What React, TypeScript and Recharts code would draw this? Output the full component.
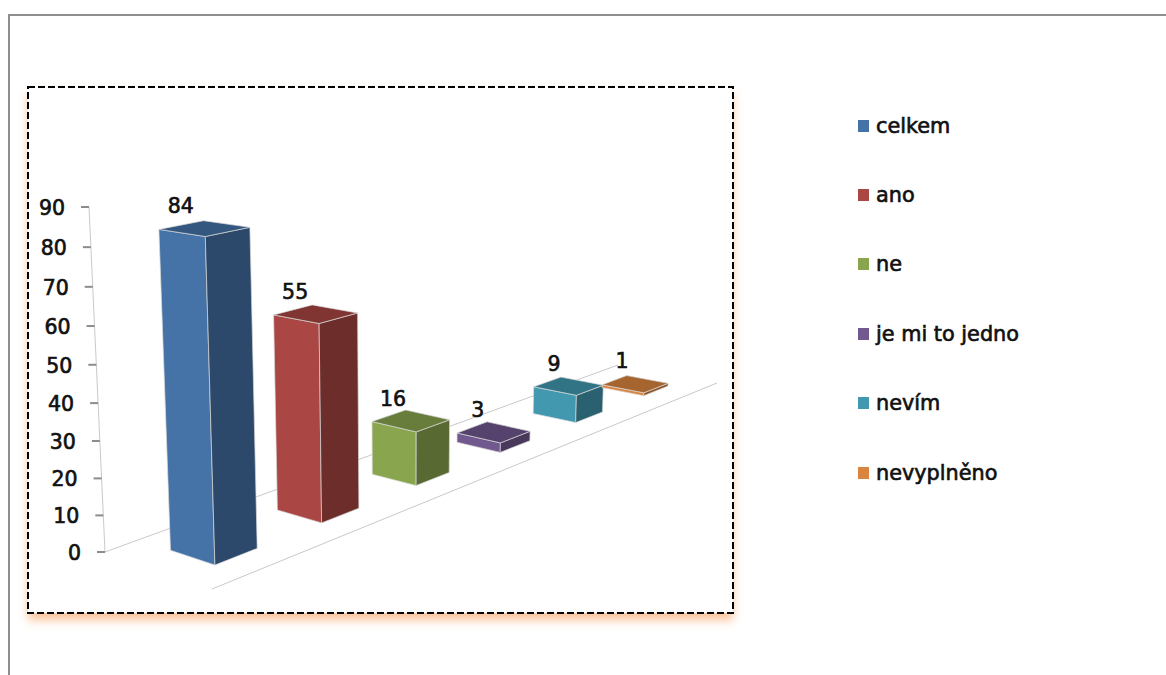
import React from 'react'
import { Bar, BarChart, LabelList, Legend, XAxis, YAxis } from 'recharts'

const seriesNames = ['celkem', 'ano', 'ne', 'je mi to jedno', 'nevím', 'nevyplněno']
const seriesValues = [84, 55, 16, 3, 9, 1]
const seriesColors = ['#4572A7', '#AA4643', '#89A54E', '#71588F', '#4198AF', '#DB843D']
const yTicks = [0, 10, 20, 30, 40, 50, 60, 70, 80, 90]
const yMax = 90

const row: Record<string, number | string> = { name: 'odpovedi' }
seriesNames.forEach((n, i) => {
  row[n] = seriesValues[i]
})

const FONT = '"DejaVu Sans", sans-serif'
const TEXT_WEIGHT = 0.65

// plot box recharts lays out in, before it gets projected
const LEGEND_W = 250
const AXIS_W = 1
const M = { left: 100, top: 100, right: 466, bottom: 125 }
const W = 1166 - M.left - M.right
const H = 675 - M.top - M.bottom

// floor corners on screen: back-left, back-right, front-left, front-right
const P00 = [105, 552]
const P10 = [618, 365]
const P01 = [212, 589]
const P11 = [717, 383]
// screen direction of the height axis and its perspective term
const VY = [-20.5, -355.5]
const PY = -0.0508

// unit square -> floor quad homography
const sx = P00[0] - P10[0] + P11[0] - P01[0]
const sy = P00[1] - P10[1] + P11[1] - P01[1]
const dx1 = P10[0] - P11[0]
const dx2 = P01[0] - P11[0]
const dy1 = P10[1] - P11[1]
const dy2 = P01[1] - P11[1]
const det = dx1 * dy2 - dx2 * dy1
const g = (sx * dy2 - dx2 * sy) / det
const h = (dx1 * sy - sx * dy1) / det

// X along the categories, Z towards the viewer, Y up, all 0..1
const project = (X: number, Z: number, Y: number) => {
  const w = 1 + g * X + h * Z + PY * Y
  const px = (P10[0] - P00[0] + g * P10[0]) * X + (P01[0] - P00[0] + h * P01[0]) * Z + P00[0] + VY[0] * Y
  const py = (P10[1] - P00[1] + g * P10[1]) * X + (P01[1] - P00[1] + h * P01[1]) * Z + P00[1] + VY[1] * Y
  return [px / w, py / w]
}

const poly = (pts: number[][]) => pts.map((p) => `${p[0].toFixed(1)},${p[1].toFixed(1)}`).join(' ')

const shade = (hex: string, k: number) => {
  const n = parseInt(hex.slice(1), 16)
  const c = [(n >> 16) & 255, (n >> 8) & 255, n & 255].map((v) => Math.round(v * k))
  return `rgb(${c[0]},${c[1]},${c[2]})`
}

const toX = (px: number) => (px - M.left) / W

const DEPTH_BACK = 0.31
const DEPTH_FRONT = 0.725

const Box = (props: any) => {
  const { x, width, height, fill } = props
  const x0 = toX(x)
  const x1 = toX(x + width)
  const Y = height / H
  const edge = { stroke: '#d8d8d8', strokeWidth: 0.7, strokeLinejoin: 'round' as const }
  return (
    <g>
      <polygon
        points={poly([
          project(x0, DEPTH_BACK, 0),
          project(x0, DEPTH_FRONT, 0),
          project(x0, DEPTH_FRONT, Y),
          project(x0, DEPTH_BACK, Y),
        ])}
        fill={fill}
        {...edge}
      />
      <polygon
        points={poly([
          project(x0, DEPTH_FRONT, 0),
          project(x1, DEPTH_FRONT, 0),
          project(x1, DEPTH_FRONT, Y),
          project(x0, DEPTH_FRONT, Y),
        ])}
        fill={shade(fill, 0.64)}
        {...edge}
      />
      <polygon
        points={poly([
          project(x0, DEPTH_BACK, Y),
          project(x0, DEPTH_FRONT, Y),
          project(x1, DEPTH_FRONT, Y),
          project(x1, DEPTH_BACK, Y),
        ])}
        fill={shade(fill, 0.76)}
        {...edge}
      />
    </g>
  )
}

const ValueLabel = (props: any) => {
  const { x, height, value } = props
  const p = project(toX(x), 0.5, height / H)
  return (
    <text
      x={p[0] + 1}
      y={p[1] - 27}
      textAnchor="middle"
      dominantBaseline="central"
      fontFamily={FONT}
      fontSize={20.5}
      fill="#111"
      stroke="#111"
      strokeWidth={TEXT_WEIGHT}
    >
      {value}
    </text>
  )
}

const YTick = (props: any) => {
  const { y, payload } = props
  const p = project(0, 0, (M.top + H - y) / H)
  return (
    <g>
      <line x1={p[0] - 8} y1={p[1]} x2={p[0]} y2={p[1]} stroke="#8c8c8c" strokeWidth={2} />
      <text
        x={p[0] - 24}
        y={p[1] + 1}
        textAnchor="end"
        dominantBaseline="central"
        fontFamily={FONT}
        fontSize={20.5}
        fill="#111"
        stroke="#111"
        strokeWidth={TEXT_WEIGHT}
      >
        {payload.value}
      </text>
    </g>
  )
}

// axis and floor guide lines
const Guides = () => {
  const stroke = '#c9c9c9'
  const segs = [
    [project(0, 0, 0), project(0, 0, 1)],
    [project(0, 0, 0), project(1, 0, 0)],
    [project(0, 1, 0), project(1, 1, 0)],
  ]
  return (
    <g>
      <rect
        x={28}
        y={87}
        width={705}
        height={526}
        fill="none"
        stroke="#000"
        strokeWidth={2}
        strokeDasharray="7 3"
      />
      {segs.map((s, i) => (
        <line key={i} x1={s[0][0]} y1={s[0][1]} x2={s[1][0]} y2={s[1][1]} stroke={stroke} strokeWidth={1} />
      ))}
    </g>
  )
}

const LegendList = ({ payload }: any) => (
  <div style={{ fontFamily: FONT, fontSize: 20.8, color: '#111', WebkitTextStroke: `${TEXT_WEIGHT}px #111` }}>
    {(payload || []).map((item: any) => (
      <div key={item.value} style={{ display: 'flex', alignItems: 'center', height: 69.4, whiteSpace: 'nowrap' }}>
        <span style={{ width: 11, height: 12, background: item.color, marginRight: 7 }} />
        {item.value}
      </div>
    ))}
  </div>
)

export default function App() {
  return (
    <div style={{ position: 'absolute', left: 0, top: 0, width: 1166, height: 675, background: '#fff', overflow: 'hidden' }}>
      <div
        style={{
          position: 'absolute',
          left: 8,
          top: 14,
          right: 0,
          bottom: 0,
          borderTop: '2px solid #8e8e8e',
          borderLeft: '2px solid #8e8e8e',
        }}
      />
      <div
        style={{
          position: 'absolute',
          left: 28,
          top: 87,
          width: 705,
          height: 526,
          background: '#fff',
          boxShadow: '0 7px 9px rgba(250,175,120,0.75)',
        }}
      />
      <div style={{ position: 'absolute', left: 0, top: 0 }}>
        <BarChart
          width={1166}
          height={675}
          data={[row]}
          margin={{ ...M, left: M.left - AXIS_W, right: M.right - LEGEND_W }}
          barSize={38}
          barGap={61.8}
        >
          <Guides />
          <XAxis dataKey="name" hide padding={{ left: 0, right: 5 }} />
          <YAxis
            width={AXIS_W}
            domain={[0, yMax]}
            ticks={yTicks}
            interval={0}
            axisLine={false}
            tickLine={false}
            tick={<YTick />}
          />
          <Legend
            layout="vertical"
            align="right"
            verticalAlign="top"
            itemSorter={null}
            content={<LegendList />}
            wrapperStyle={{ position: 'absolute', left: 858, top: 91, width: LEGEND_W }}
          />
          {seriesNames.map((n, i) => (
            <Bar key={n} dataKey={n} name={n} fill={seriesColors[i]} shape={<Box />} isAnimationActive={false}>
              <LabelList dataKey={n} content={<ValueLabel />} />
            </Bar>
          ))}
        </BarChart>
      </div>
    </div>
  )
}
